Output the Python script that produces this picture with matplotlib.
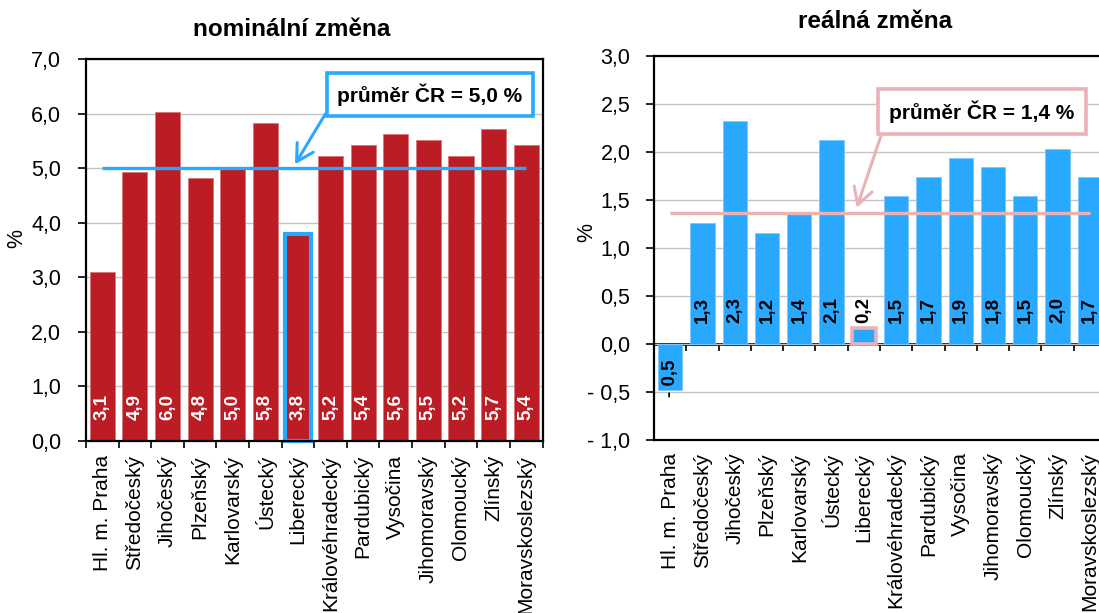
import matplotlib
matplotlib.use("Agg")
import matplotlib.pyplot as plt
import numpy as np
from matplotlib.ticker import FuncFormatter, FixedLocator

plt.rcParams['font.family'] = ['Liberation Sans', 'DejaVu Sans']

# ---------------- data ----------------
regions = ["Hl. m. Praha", "Středočeský", "Jihočeský", "Plzeňský", "Karlovarský",
           "Ústecký", "Liberecký", "Královéhradecký", "Pardubický", "Vysočina",
           "Jihomoravský", "Olomoucký", "Zlínský", "Moravskoslezský"]
nominal = [3.1, 4.93, 6.03, 4.82, 5.0, 5.83, 3.8, 5.22, 5.42, 5.62, 5.51, 5.22, 5.72, 5.42]
nominal_labels = ["3,1", "4,9", "6,0", "4,8", "5,0", "5,8", "3,8", "5,2", "5,4", "5,6",
                  "5,5", "5,2", "5,7", "5,4"]
real = [-0.48, 1.26, 2.32, 1.16, 1.35, 2.13, 0.17, 1.54, 1.74, 1.94, 1.84, 1.54, 2.03, 1.74]
real_labels = ["- 0,5", "1,3", "2,3", "1,2", "1,4", "2,1", "0,2", "1,5", "1,7", "1,9",
               "1,8", "1,5", "2,0", "1,7"]
nominal_mean = 5.0
real_mean = 1.36
nominal_mean_text = "průměr ČR = 5,0 %"
real_mean_text = "průměr ČR = 1,4 %"
highlight = "Liberecký"
title_left = "nominální změna"
title_right = "reálná změna"

# ---------------- style ----------------
RED = "#BC1C24"
RED_EDGE = "#D8767B"
BLUE = "#29A8FF"
BLUE_EDGE = "#7CC8FF"
PINK = "#E8B2B6"
GRID = "#C4C4C4"

W, H = 1099, 613
fig = plt.figure(figsize=(W / 100, H / 100), dpi=100)

ax1 = fig.add_axes([86 / W, 1 - 441 / H, 456.5 / W, 382 / H])
ax2 = fig.add_axes([654 / W, 1 - 440 / H, 452 / W, 384 / H])

x = np.arange(len(regions))
hi = regions.index(highlight)


def comma_fmt(v, pos):
    s = f"{abs(v):.1f}".replace(".", ",")
    return ("- " + s) if v < -1e-9 else s


for ax in (ax1, ax2):
    ax.set_xlim(-0.5, len(regions) - 0.5)
    ax.yaxis.set_major_formatter(FuncFormatter(comma_fmt))
    ax.grid(axis='y', color=GRID, lw=1.0, zorder=0)
    ax.set_axisbelow(True)
    ax.set_xticks(x)
    ax.set_xticklabels(regions, rotation=90, fontsize=15)
    ax.xaxis.set_minor_locator(FixedLocator(np.arange(-0.5, len(regions), 1.0)))
    ax.tick_params(axis='y', labelsize=15.5, length=6, width=1.2, direction='out')
    for sp in ax.spines.values():
        sp.set_linewidth(1.6)
        sp.set_color('black')

# ---------------- left: nominal ----------------
ax1.set_ylim(0, 7)
ax1.set_yticks(np.arange(0, 7.01, 1.0))
ax1.tick_params(axis='y', pad=12)
ax1.tick_params(axis='x', which='major', length=0, pad=10)
ax1.tick_params(axis='x', which='minor', length=5, width=1.2, direction='out')
bars1 = ax1.bar(x, nominal, width=0.77, color=RED, edgecolor=RED_EDGE, linewidth=0.6, zorder=2)
bars1[hi].set_edgecolor(BLUE)
bars1[hi].set_linewidth(3.0)
bars1[hi].set_clip_on(False)
for i, lbl in enumerate(nominal_labels):
    ax1.annotate(lbl, (x[i], 0), xytext=(0, 15), textcoords='offset points',
                 rotation=90, ha='center', va='bottom', color='white',
                 fontsize=13.5, fontweight='bold', zorder=4)
ax1.plot(x, [nominal_mean] * len(x), color=BLUE, lw=2.4, zorder=3, solid_capstyle='butt')
ax1.annotate(nominal_mean_text, xy=(5.91, 5.07), xytext=(10.04, 6.35),
             ha='center', va='center', fontsize=15, fontweight='bold', zorder=6,
             bbox=dict(boxstyle='square,pad=0.5', fc='white', ec=BLUE, lw=2.6),
             arrowprops=dict(arrowstyle='->,head_length=0.8,head_width=0.45', color=BLUE,
                             lw=2.2, shrinkA=0, shrinkB=0, relpos=(0, 0.5)))

# ---------------- right: real ----------------
ax2.set_ylim(-1, 3)
ax2.set_yticks(np.arange(-1, 3.01, 0.5))
ax2.tick_params(axis='y', pad=11)
ax2.tick_params(axis='x', which='both', length=0, pad=9)
bars2 = ax2.bar(x, real, width=0.75, color=BLUE, edgecolor=BLUE_EDGE, linewidth=0.6, zorder=2)
bars2[hi].set_edgecolor(PINK)
bars2[hi].set_linewidth(2.6)
for i, lbl in enumerate(real_labels):
    if real[i] >= 0:
        ax2.annotate(lbl, (x[i], 0), xytext=(0, 15), textcoords='offset points',
                     rotation=90, ha='center', va='bottom', color='black',
                     fontsize=13.5, fontweight='bold', zorder=4)
    else:
        ax2.annotate(lbl, (x[i], 0), xytext=(0, -11), textcoords='offset points',
                     rotation=90, ha='center', va='top', color='black',
                     fontsize=13.5, fontweight='bold', zorder=4)
ax2.plot(x, [real_mean] * len(x), color=PINK, lw=2.4, zorder=3, solid_capstyle='butt')
# zero axis with tick marks between categories
sec = ax2.secondary_xaxis(0.25)
sec.set_xticks(np.arange(-0.5, len(regions), 1.0))
sec.set_xticklabels([])
sec.tick_params(axis='x', length=5, width=1.2, direction='out', color='black')
for sp in sec.spines.values():
    sp.set_linewidth(2.0)
    sp.set_color('black')
ax2.annotate(real_mean_text, xy=(5.78, 1.42), xytext=(9.65, 2.42),
             ha='center', va='center', fontsize=15, fontweight='bold', zorder=6,
             bbox=dict(boxstyle='square,pad=0.55', fc='white', ec=PINK, lw=2.6),
             arrowprops=dict(arrowstyle='->,head_length=0.8,head_width=0.45', color=PINK,
                             lw=2.2, shrinkA=0, shrinkB=0, relpos=(0, 0.5)))

# ---------------- titles / axis labels ----------------
fig.text(292 / W, 1 - 29 / H, title_left, ha='center', va='center', fontsize=17.5, fontweight='bold')
fig.text(875 / W, 1 - 21 / H, title_right, ha='center', va='center', fontsize=17.5, fontweight='bold')
fig.text(17 / W, 1 - 238 / H, "%", rotation=90, ha='center', va='center', fontsize=15.5)
fig.text(587 / W, 1 - 233 / H, "%", rotation=90, ha='center', va='center', fontsize=15.5)

fig.savefig("out.png", dpi=100)
